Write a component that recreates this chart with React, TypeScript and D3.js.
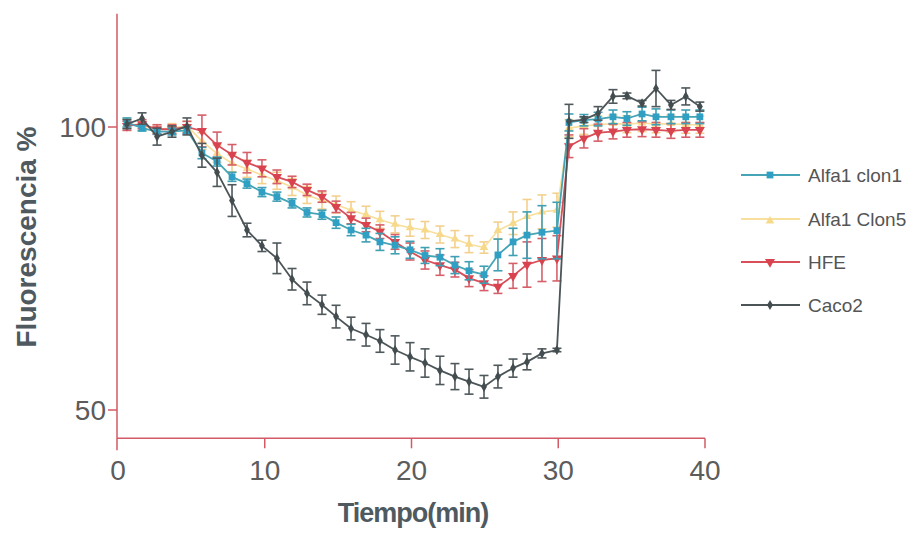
import React from "react";
import * as d3 from "d3";

const times = [0.61, 1.64, 2.66, 3.68, 4.7, 5.72, 6.75, 7.77, 8.79, 9.81, 10.83, 11.86, 12.88, 13.9, 14.86, 15.88, 16.9, 17.85, 18.88, 19.9, 20.92, 21.94, 22.96, 23.92, 24.94, 25.89, 26.92, 27.87, 28.89, 29.91, 30.73, 31.75, 32.71, 33.73, 34.68, 35.71, 36.66, 37.68, 38.69, 39.65];

const clon1Mean = [100.8, 99.8, 99.2, 99.2, 99.4, 95.4, 93.9, 91.2, 90.0, 88.5, 87.7, 86.5, 84.9, 84.5, 83.1, 81.8, 80.9, 79.7, 79.1, 78.3, 77.3, 77.0, 75.6, 74.6, 73.9, 77.4, 79.7, 80.9, 81.4, 81.7, 100.8, 101.2, 101.4, 101.8, 101.5, 102.3, 101.8, 101.8, 101.8, 101.8];
const clon1Err = [0.8, 0.5, 0.5, 0.6, 0.6, 1.0, 0.8, 0.8, 0.8, 0.8, 0.8, 0.8, 0.8, 0.8, 1.0, 1.0, 1.2, 1.5, 1.5, 1.5, 1.4, 1.5, 1.5, 1.6, 1.5, 2.8, 2.4, 4.1, 4.7, 5.0, 1.5, 1.0, 1.2, 1.2, 1.2, 1.2, 1.4, 1.2, 1.2, 1.2];

const clon5Mean = [100.6, 100.2, 99.6, 99.8, 100.2, 97.5, 95.3, 93.6, 92.6, 91.5, 90.5, 89.4, 88.0, 87.0, 86.3, 85.3, 84.5, 83.6, 82.8, 82.2, 81.8, 81.0, 80.2, 79.3, 78.7, 81.7, 83.0, 84.2, 85.0, 85.3, 99.8, 100.2, 100.4, 100.6, 100.5, 100.7, 100.5, 100.6, 100.4, 100.4];
const clon5Err = [0.8, 0.8, 0.8, 0.8, 0.8, 1.5, 1.5, 1.5, 1.5, 1.5, 1.5, 1.5, 1.5, 1.5, 1.5, 1.5, 1.5, 1.5, 1.5, 1.5, 1.5, 1.5, 1.5, 1.5, 1.0, 1.5, 2.0, 3.0, 3.0, 3.0, 1.5, 1.5, 1.5, 1.5, 1.5, 1.5, 1.5, 1.5, 1.5, 1.5];

const hfeMean = [100.2, 100.5, 99.6, 99.6, 100.0, 99.3, 96.8, 95.1, 93.7, 92.7, 91.2, 90.3, 88.9, 87.7, 85.9, 83.9, 82.7, 81.5, 79.7, 78.0, 76.5, 75.6, 74.8, 73.3, 72.4, 71.8, 73.7, 75.7, 76.5, 76.8, 96.6, 98.0, 99.0, 99.2, 99.5, 99.6, 99.5, 99.3, 99.5, 99.5];
const hfeErr = [0.8, 0.8, 0.8, 0.8, 1.0, 2.8, 2.3, 1.8, 1.8, 1.5, 1.2, 1.0, 1.0, 1.0, 1.0, 1.0, 1.2, 1.2, 1.3, 1.5, 1.6, 1.8, 1.3, 1.5, 1.3, 1.2, 2.2, 4.0, 3.8, 4.0, 2.0, 1.7, 1.5, 1.3, 1.3, 1.3, 1.3, 1.3, 1.3, 1.3];

const caco2Mean = [100.5, 101.5, 98.3, 99.2, 100.1, 95.0, 92.0, 87.0, 81.8, 79.0, 76.8, 73.1, 70.6, 68.6, 66.5, 64.4, 63.3, 62.2, 60.6, 59.4, 58.3, 57.0, 55.9, 55.0, 54.1, 55.9, 57.4, 58.5, 60.0, 60.6, 101.0, 101.3, 102.4, 105.4, 105.5, 104.2, 106.8, 103.9, 105.4, 103.6];
const caco2Err = [0.8, 1.0, 1.5, 1.0, 1.5, 2.1, 2.5, 2.8, 1.2, 1.0, 2.7, 1.9, 2.0, 1.7, 2.0, 2.0, 2.0, 2.0, 2.5, 2.5, 2.5, 2.5, 2.3, 2.2, 2.0, 2.0, 1.6, 1.4, 0.8, 0.3, 3.0, 0.5, 1.2, 1.2, 0.5, 0.5, 3.2, 0.8, 1.5, 0.8];

const seriesNames = ["Alfa1 clon1", "Alfa1 Clon5", "HFE", "Caco2"];
const xTicks = [0, 10, 20, 30, 40];
const yTicks = [50, 100];

const W = 919;
const H = 533;

type Series = {
  name: string;
  mean: number[];
  err: number[];
  line: string;
  bar: string;
  fill: string;
  symbol: d3.SymbolType;
  size: number;
  rotate: number;
  width: number;
};

export default function App() {
  const x = d3.scaleLinear().domain([0, 40]).range([118, 705]);
  const y = d3.scaleLinear().domain([50, 100]).range([410, 127]);
  const axisColor = "#d25a66";
  const font = "'Liberation Sans', Arial, sans-serif";

  const series: Series[] = [
    { name: seriesNames[0], mean: clon1Mean, err: clon1Err, line: "#45a5b6", bar: "#3f9fb3", fill: "#2fa0c4", symbol: d3.symbolSquare, size: 46, rotate: 0, width: 1.8 },
    { name: seriesNames[1], mean: clon5Mean, err: clon5Err, line: "#f8df9c", bar: "#f3d08e", fill: "#f6d98a", symbol: d3.symbolTriangle, size: 32, rotate: 0, width: 1.6 },
    { name: seriesNames[2], mean: hfeMean, err: hfeErr, line: "#d84f5a", bar: "#d6606a", fill: "#d8434f", symbol: d3.symbolTriangle, size: 44, rotate: 180, width: 1.8 },
    { name: seriesNames[3], mean: caco2Mean, err: caco2Err, line: "#4b5558", bar: "#4f585b", fill: "#434d50", symbol: d3.symbolDiamond, size: 30, rotate: 0, width: 1.8 },
  ];

  const drawOrder = [1, 2, 0, 3];
  const lineGen = d3.line<number>().x((_, i) => x(times[i])).y((d) => y(d));

  const legendRows = [175, 219, 262, 305];

  return (
    <svg width={W} height={H} style={{ position: "absolute", left: 0, top: 0, background: "#fff" }} fontFamily={font}>
      <rect x={0} y={0} width={W} height={H} fill="#fff" />
      {/* axes */}
      <line x1={117} y1={y(120)} x2={117} y2={y(45) + 12} stroke={axisColor} strokeWidth={1.5} />
      <line x1={117} y1={y(45)} x2={x(40)} y2={y(45)} stroke={axisColor} strokeWidth={1.5} />
      {xTicks.map((t) => (
        <g key={"xt" + t}>
          {t > 0 && <line x1={x(t)} x2={x(t)} y1={y(45)} y2={y(45) + 10} stroke={axisColor} strokeWidth={1.5} />}
          <text x={x(t)} y={y(45) + 42} textAnchor="middle" fontSize={28} fill="#5c5c5c">{t}</text>
        </g>
      ))}
      {yTicks.map((t) => (
        <g key={"yt" + t}>
          <line x1={108} x2={117} y1={y(t)} y2={y(t)} stroke={axisColor} strokeWidth={1.5} />
          <text x={106} y={y(t) + 10} textAnchor="end" fontSize={28} fill="#5c5c5c">{t}</text>
        </g>
      ))}
      <text x={413} y={522} textAnchor="middle" fontSize={27} fontWeight="bold" fill="#4f5a60" letterSpacing={-1}>Tiempo(min)</text>
      <text transform={`translate(36,${237}) rotate(-90)`} textAnchor="middle" fontSize={28} fontWeight="bold" fill="#4f5a60">Fluorescencia %</text>

      {/* series */}
      {drawOrder.map((si) => {
        const s = series[si];
        const sym = d3.symbol().type(s.symbol).size(s.size)() || "";
        return (
          <g key={s.name}>
            {s.mean.map((m, i) => {
              const cx = x(times[i]);
              const e = s.err[i];
              return (
                <g key={i} stroke={s.bar} strokeWidth={1.6}>
                  <line x1={cx} x2={cx} y1={y(m + e)} y2={y(m - e)} />
                  <line x1={cx - 4.5} x2={cx + 4.5} y1={y(m + e)} y2={y(m + e)} />
                  <line x1={cx - 4.5} x2={cx + 4.5} y1={y(m - e)} y2={y(m - e)} />
                </g>
              );
            })}
            <path d={lineGen(s.mean) || ""} fill="none" stroke={s.line} strokeWidth={s.width} strokeLinejoin="round" />
            {s.mean.map((m, i) => (
              <path key={"p" + i} d={sym} transform={`translate(${x(times[i])},${y(m)}) rotate(${s.rotate})`} fill={s.fill} />
            ))}
          </g>
        );
      })}

      {/* legend */}
      {series.map((s, i) => {
        const sym = d3.symbol().type(s.symbol).size(s.size)() || "";
        const ry = legendRows[i];
        return (
          <g key={"lg" + i}>
            <line x1={741} x2={800} y1={ry} y2={ry} stroke={s.line} strokeWidth={1.8} />
            <path d={sym} transform={`translate(770,${ry + (i === 1 ? 2 : 0)}) rotate(${s.rotate})`} fill={s.fill} />
            <text x={808} y={ry + 7} fontSize={19} fill="#555">{s.name}</text>
          </g>
        );
      })}
    </svg>
  );
}
